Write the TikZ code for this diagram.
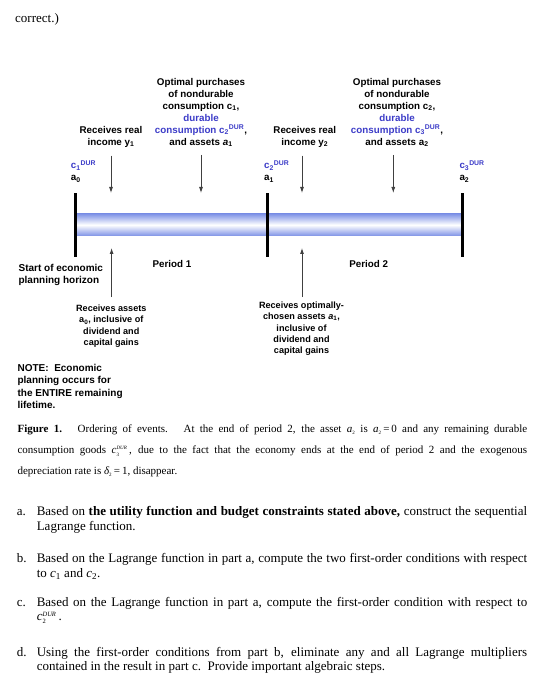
\documentclass[tikz,border=0pt]{standalone}
\usepackage{fontspec}
\setmainfont{Liberation Serif}
\newfontfamily\arialfont{Liberation Sans}
\usetikzlibrary{arrows.meta}
\definecolor{durblue}{RGB}{60,60,200}
\definecolor{barblue}{RGB}{125,145,230}
\newcommand{\dur}{\textsuperscript{DUR}}
\newcommand{\csub}[2]{\ensuremath{\textit{#1}_{\mbox{\fontsize{5}{5}\selectfont #2}}}}
\newcommand{\cstack}[4][5]{\ensuremath{\textit{#2}_{\mbox{\fontsize{#1}{#1}\selectfont #3}}^{\mbox{\fontsize{#1}{#1}\selectfont\textit{#4}}}}}
\begin{document}
\begin{tikzpicture}[x=1pt,y=-1pt,
    lbl/.style={font=\arialfont\bfseries\fontsize{9.8}{12}\selectfont,align=center,inner sep=0pt,anchor=north},
    lowlbl/.style={lbl,font=\arialfont\bfseries\fontsize{9.1}{11.4}\selectfont},
    evarrow/.style={-{Latex[length=6pt,width=4pt]},black!75,line width=0.8pt},
    tick/.style={line width=3pt},
    body/.style={font=\fontsize{13}{14.5}\selectfont,inner sep=0pt,anchor=north west,text width=490.4pt,align=justify},
    qlabel/.style={font=\fontsize{13}{14.5}\selectfont,inner sep=0pt,anchor=base west}]
    \fill[white] (0,0) rectangle (540,700);
    \node[qlabel] (prev) at (15,23) {correct.)};
    % time line
    \shade[top color=barblue,bottom color=barblue,middle color=white] (75,213.7) rectangle (462.3,236);
    \foreach \x in {75,267.3,462.3}
        \draw[tick] (\x,193.3) -- (\x,256.5);
    \coordinate (dn1) at (111,193);
    \coordinate (dn2) at (201,193);
    \coordinate (dn3) at (302,193);
    \coordinate (dn4) at (393.3,193);
    \coordinate (up1) at (111.6,248);
    \coordinate (up2) at (302,248);
    \node[lbl] (opt1) at (201,78) {Optimal purchases\\of nondurable\\consumption c\textsubscript{1},\\\textcolor{durblue}{durable}\\\textcolor{durblue}{consumption c\textsubscript{2}\dur},\\and assets \textit{a}\textsubscript{1}};
    \node[lbl] (opt2) at (397,78) {Optimal purchases\\of nondurable\\consumption c\textsubscript{2},\\\textcolor{durblue}{durable}\\\textcolor{durblue}{consumption c\textsubscript{3}\dur},\\and assets a\textsubscript{2}};
    \node[lbl] (inc1) at (111,126) {Receives real\\income y\textsubscript{1}};
    \node[lbl] (inc2) at (304.8,126) {Receives real\\income y\textsubscript{2}};
    \foreach \x/\i/\j in {70.7/1/0,264/2/1,459.3/3/2}{
        \node[lbl,anchor=base west] (cd\i) at (\x,169) {\textcolor{durblue}{c\textsubscript{\i}\dur}};
        \node[lbl,anchor=base west] (as\j) at (\x,181) {a\textsubscript{\j}};
    }
    \draw[evarrow,shorten <=8pt] (dn1 |- inc1.south) -- (dn1);
    \draw[evarrow,shorten <=8pt] (dn2 |- opt1.south) -- (dn2);
    \draw[evarrow,shorten <=8pt] (dn3 |- inc2.south) -- (dn3);
    \draw[evarrow,shorten <=8pt] (dn4 |- opt2.south) -- (dn4);
    \node[lbl,anchor=base] (per1) at (172,267) {Period 1};
    \node[lbl,anchor=base] (per2) at (368.7,267) {Period 2};
    \node[lbl,align=left,anchor=north west,font=\arialfont\bfseries\fontsize{10}{12}\selectfont] (start) at (18.4,264) {Start of economic\\planning horizon};
    \node[lowlbl] (rec1) at (111.3,304.5) {Receives assets\\a\textsubscript{0}, inclusive of\\dividend and\\capital gains};
    \node[lowlbl] (rec2) at (301.5,301.5) {Receives optimally-\\chosen assets \textit{a}\textsubscript{1},\\inclusive of\\dividend and\\capital gains};
    \draw[evarrow,shorten <=7.5pt] (up1 |- rec1.north) -- (up1);
    \draw[evarrow,shorten <=4.5pt] (up2 |- rec2.north) -- (up2);
    \node[lbl,align=left,anchor=north west,font=\arialfont\bfseries\fontsize{10}{12.5}\selectfont] (note) at (17.4,364) {NOTE:\ \ Economic\\planning occurs for\\the ENTIRE remaining\\lifetime.};
    % caption and questions
    \node[body,font=\fontsize{11}{21}\selectfont,text width=509.6pt] (cap) at (17.4,424.7) {\textbf{Figure 1.}\ \ \ Ordering of events.\ \ \ At the end of period 2, the asset \csub{a}{2} is \csub{a}{2}\,=\,0 and any remaining durable\linebreak consumption goods \cstack{c}{3}{DUR}\,, due to the fact that the economy ends at the end of period 2 and the exogenous\linebreak depreciation rate is \csub{δ}{2}\,=\,1, disappear.};
    \node[qlabel] (qa) at (16.7,515.5) {a.};
    \node[body] (qta) at (36.6,506.6) {Based on \textbf{the utility function and budget constraints stated above,} construct the sequential\linebreak Lagrange function.};
    \node[qlabel] (qb) at (16.7,562.5) {b.};
    \node[body] (qtb) at (36.6,553.6) {Based on the Lagrange function in part a, compute the two first-order conditions with respect\linebreak to \textit{c}\textsubscript{1} and \textit{c}\textsubscript{2}.};
    \node[qlabel] (qc) at (16.7,606) {c.};
    \node[body] (qtc) at (36.6,597.1) {Based on the Lagrange function in part a, compute the first-order condition with respect to\linebreak \cstack[6.5]{c}{2}{DUR}\,.};
    \node[qlabel] (qd) at (16.7,656) {d.};
    \node[body] (qtd) at (36.6,647.1) {Using the first-order conditions from part b, eliminate any and all Lagrange multipliers\linebreak contained in the result in part c.\ \ Provide important algebraic steps.};
\end{tikzpicture}
\end{document}
